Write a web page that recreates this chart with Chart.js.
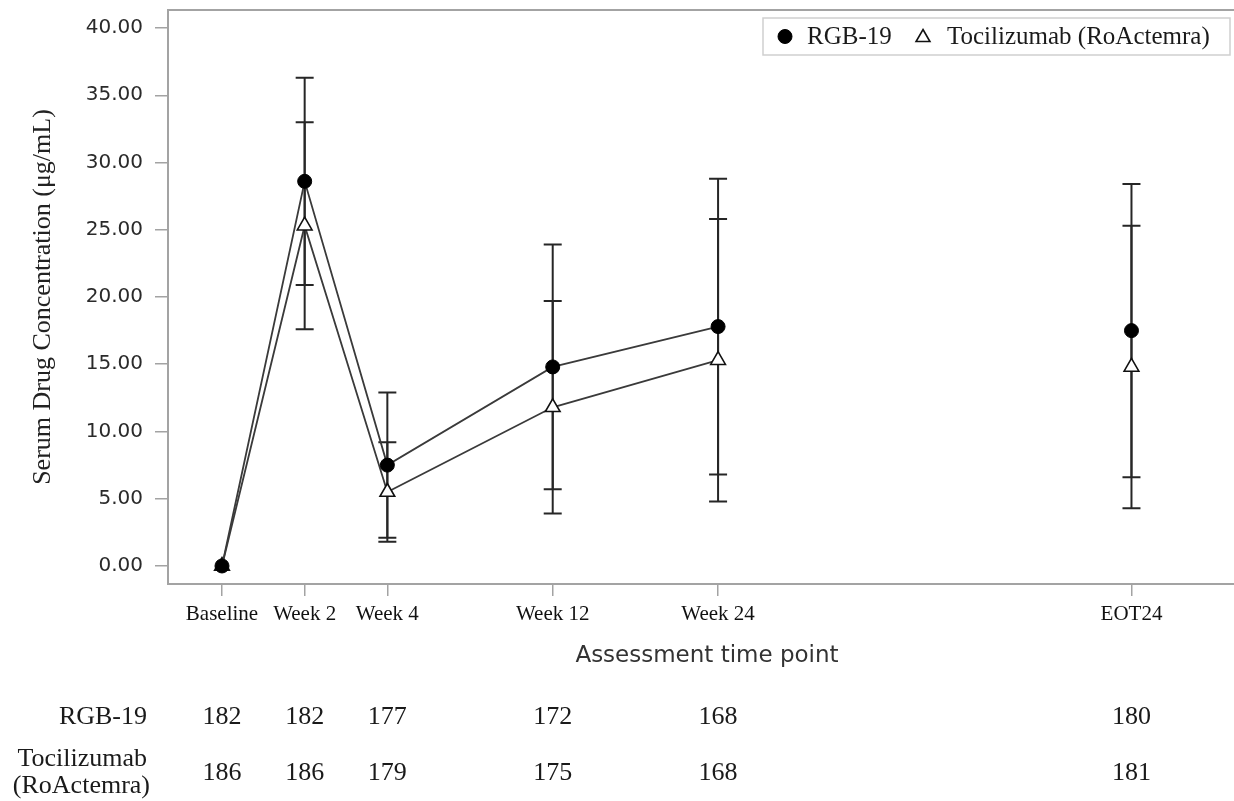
<!DOCTYPE html>
<html>
<head>
<meta charset="utf-8">
<script src="https://cdn.jsdelivr.net/npm/chart.js@4.4.1/dist/chart.umd.min.js"></script>
<style>
  html, body { margin: 0; padding: 0; background: #fff; }
  #wrap { width: 1234px; height: 801px; position: relative; }
</style>
</head>
<body>
<div id="wrap"><canvas id="c" width="1234" height="801"></canvas></div>
<script>
// Assessment time points and where they sit on the (ordinal, gapped) time axis
const timePoints = ['Baseline', 'Week 2', 'Week 4', 'Week 12', 'Week 24', 'EOT24'];
const timeAxisPos = [0, 1, 2, 4, 6, 11];

// Mean serum drug concentration (µg/mL) and standard deviation per group
const rgbMean = [0, 28.6, 7.5, 14.8, 17.8, 17.5];
const rgbSD   = [0, 7.7, 5.4, 9.1, 11.0, 10.9];
const tocMean = [0, 25.3, 5.5, 11.8, 15.3, 14.8];
const tocSD   = [0, 7.7, 3.7, 7.9, 10.5, 10.5];

// Number of subjects at each time point
const rgbN = [182, 182, 177, 172, 168, 180];
const tocN = [186, 186, 179, 175, 168, 181];

const seriesNames = ['RGB-19', 'Tocilizumab (RoActemra)'];
const tableRowLabels = [['RGB-19'], ['Tocilizumab', '(RoActemra)']];
const yTicks = [0, 5, 10, 15, 20, 25, 30, 35, 40];

const SERIF = '"Liberation Serif", "Times New Roman", serif';
const SANS = '"DejaVu Sans", Verdana, sans-serif';
const AXIS_GREY = '#a3a3a3';
const LINE_COL = '#3a3a3a';

// EOT24 is shown on its own: no connecting segment from Week 24
const lastIdx = timePoints.length - 1;
const segmentStyle = {
  borderColor: ctx => ctx.p1DataIndex === lastIdx ? 'rgba(0,0,0,0)' : LINE_COL
};

const toPoints = arr => timeAxisPos.map((x, i) => ({ x: x, y: arr[i] }));

// Mean ± SD whiskers for every point, drawn beneath the markers
const errorBars = {
  id: 'errorBars',
  beforeDatasetsDraw(chart) {
    const ctx = chart.ctx;
    const yScale = chart.scales.y;
    ctx.save();
    ctx.strokeStyle = '#262626';
    ctx.lineWidth = 2;
    chart.data.datasets.forEach((ds, di) => {
      const meta = chart.getDatasetMeta(di);
      meta.data.forEach((pt, j) => {
        const m = ds.data[j].y, sd = ds.sd[j];
        if (!sd) return;
        const x = pt.x;
        const yHi = yScale.getPixelForValue(m + sd);
        const yLo = yScale.getPixelForValue(m - sd);
        const cap = 9;
        ctx.beginPath();
        ctx.moveTo(x, yHi); ctx.lineTo(x, yLo);
        ctx.moveTo(x - cap, yHi); ctx.lineTo(x + cap, yHi);
        ctx.moveTo(x - cap, yLo); ctx.lineTo(x + cap, yLo);
        ctx.stroke();
      });
    });
    ctx.restore();
  }
};

// Top frame line, legend box and the subject-count table under the axis
const decorations = {
  id: 'decorations',
  afterDraw(chart) {
    const ctx = chart.ctx;
    const area = chart.chartArea;
    const xScale = chart.scales.x;
    ctx.save();

    // frame top
    ctx.strokeStyle = AXIS_GREY;
    ctx.lineWidth = 2;
    ctx.beginPath();
    ctx.moveTo(area.left, area.top);
    ctx.lineTo(area.right, area.top);
    ctx.stroke();

    // legend
    const lx = 763, ly = 18, lw = 467, lh = 37;
    ctx.fillStyle = '#fff';
    ctx.fillRect(lx, ly, lw, lh);
    ctx.strokeStyle = '#cfcfcf';
    ctx.lineWidth = 1.5;
    ctx.strokeRect(lx, ly, lw, lh);
    const cy = ly + lh / 2;
    const ds0 = chart.data.datasets[0], ds1 = chart.data.datasets[1];
    const h = Chart.helpers;
    ctx.fillStyle = ds0.pointBackgroundColor;
    ctx.strokeStyle = ds0.pointBorderColor;
    ctx.lineWidth = 1;
    h.drawPoint(ctx, { pointStyle: 'circle', radius: 7, borderWidth: 1 }, 785, cy);
    ctx.fillStyle = ds1.pointBackgroundColor;
    ctx.strokeStyle = ds1.pointBorderColor;
    ctx.lineWidth = 1.6;
    h.drawPoint(ctx, { pointStyle: 'triangle', radius: 8, borderWidth: 1.6 }, 923, cy + 1);
    ctx.fillStyle = '#1a1a1a';
    ctx.font = '25px ' + SERIF;
    ctx.textAlign = 'left';
    ctx.textBaseline = 'middle';
    ctx.fillText(seriesNames[0], 807, cy + 1);
    ctx.fillText(seriesNames[1], 947, cy + 1);

    // subject counts
    ctx.font = '26px ' + SERIF;
    ctx.fillStyle = '#1a1a1a';
    ctx.textAlign = 'right';
    ctx.fillText(tableRowLabels[0][0], 147, 717);
    ctx.fillText(tableRowLabels[1][0], 147, 759);
    ctx.fillText(tableRowLabels[1][1], 150, 786);
    ctx.textAlign = 'center';
    timeAxisPos.forEach((v, i) => {
      const x = xScale.getPixelForValue(v);
      ctx.fillText(String(rgbN[i]), x, 717);
      ctx.fillText(String(tocN[i]), x, 773);
    });

    // x-axis title
    ctx.font = '23px ' + SANS;
    ctx.fillStyle = '#333';
    ctx.fillText('Assessment time point', 707, 656);

    ctx.restore();
  }
};

new Chart(document.getElementById('c'), {
  type: 'line',
  data: {
    datasets: [
      {
        label: seriesNames[0],
        data: toPoints(rgbMean),
        sd: rgbSD,
        borderColor: LINE_COL,
        borderWidth: 1.8,
        segment: segmentStyle,
        pointStyle: 'circle',
        pointRadius: 7,
        pointBackgroundColor: '#000',
        pointBorderColor: '#000',
        pointBorderWidth: 1,
        fill: false,
        tension: 0
      },
      {
        label: seriesNames[1],
        data: toPoints(tocMean),
        sd: tocSD,
        borderColor: LINE_COL,
        borderWidth: 1.8,
        segment: segmentStyle,
        pointStyle: 'triangle',
        pointRadius: 8.5,
        pointBackgroundColor: '#fff',
        pointBorderColor: '#111',
        pointBorderWidth: 1.6,
        fill: false,
        tension: 0
      }
    ]
  },
  options: {
    responsive: false,
    animation: false,
    events: [],
    layout: { autoPadding: false, padding: { top: 10, right: 0, left: 0, bottom: 0 } },
    plugins: { legend: { display: false }, tooltip: { enabled: false } },
    scales: {
      x: {
        type: 'linear',
        min: -0.653,
        max: 12.24,
        afterBuildTicks: s => { s.ticks = timeAxisPos.map(v => ({ value: v })); },
        afterFit: s => { s.height = 217; s.paddingLeft = 0; s.paddingRight = 0; },
        ticks: {
          autoSkip: false,
          maxRotation: 0,
          padding: 6,
          color: '#111',
          font: { family: SERIF, size: 21 },
          callback: v => { const i = timeAxisPos.indexOf(v); return i >= 0 ? timePoints[i] : ''; }
        },
        grid: { drawOnChartArea: false, drawTicks: true, tickLength: 12, color: AXIS_GREY, lineWidth: 1.5 },
        border: { display: true, color: AXIS_GREY, width: 2 }
      },
      y: {
        type: 'linear',
        min: -1.34,
        max: 41.34,
        afterBuildTicks: s => { s.ticks = yTicks.map(v => ({ value: v })); },
        afterFit: s => { s.width = 168; s.paddingTop = 0; s.paddingBottom = 0; },
        ticks: {
          padding: 12,
          color: '#2a2a2a',
          font: { family: SANS, size: 20 },
          callback: v => Number(v).toFixed(2)
        },
        grid: { drawOnChartArea: false, drawTicks: true, tickLength: 13, color: AXIS_GREY, lineWidth: 1.5 },
        border: { display: true, color: AXIS_GREY, width: 2 },
        title: {
          display: true,
          text: 'Serum Drug Concentration (\u03bcg/mL)',
          color: '#222',
          font: { family: SERIF, size: 26 },
          padding: { top: 28, bottom: 0 }
        }
      }
    }
  },
  plugins: [errorBars, decorations]
});
</script>
</body>
</html>
